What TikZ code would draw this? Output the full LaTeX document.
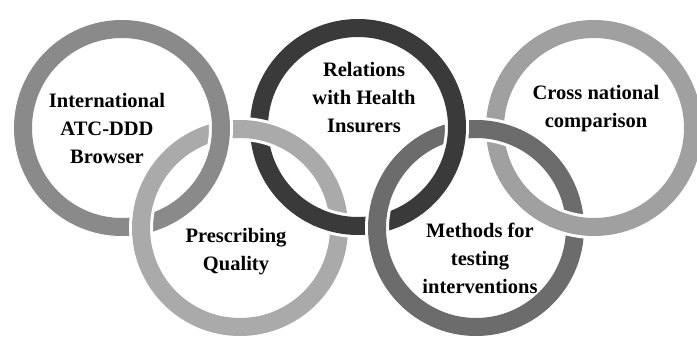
\documentclass[tikz,border=0pt]{standalone}
\usepackage{fontspec}
\setmainfont{Liberation Serif}
\usetikzlibrary{calc}
\definecolor{ringone}{HTML}{8A8A8A}
\definecolor{ringtwo}{HTML}{AAAAAA}
\definecolor{ringthree}{HTML}{3A3A3A}
\definecolor{ringfour}{HTML}{6C6C6C}
\definecolor{ringfive}{HTML}{A0A0A0}

\begin{document}
\begin{tikzpicture}[x=1pt,y=1pt,
  ring/.style={line width=18pt},
  halo/.style={line width=24pt,draw=white},
  every node/.style={align=center,font=\fontsize{20.5}{28}\selectfont\bfseries}]
\clip (0,0) rectangle (697,340);
\fill[white] (0,0) rectangle (697,340);
% ring centres, top row and bottom row
\coordinate (c1) at (122,212);
\coordinate (c2) at (240,112);
\coordinate (c3) at (358,213);
\coordinate (c4) at (476,112);
\coordinate (c5) at (594,212);
% whole rings first
\draw[ring,draw=ringone] (c1) circle[radius=99];
\draw[ring,draw=ringtwo] (c2) circle[radius=99];
\draw[ring,draw=ringthree] (c3) circle[radius=99];
\draw[ring,draw=ringfour] (c4) circle[radius=99];
\draw[ring,draw=ringfive] (c5) circle[radius=99];
% then the pieces that pass over at each crossing
\foreach \c/\a/\col in {c1/-1.65/ringone,c2/178.35/ringtwo,c2/78.91/ringtwo,c3/258.91/ringthree,
    c3/-1.65/ringthree,c4/178.35/ringfour,c4/78.91/ringfour,c5/258.91/ringfive}{
  \draw[halo] ([shift={(\a-13:99)}]\c) arc[start angle=\a-13,end angle=\a+13,radius=99];
  \draw[ring,draw=\col] ([shift={(\a-14:99)}]\c) arc[start angle=\a-14,end angle=\a+14,radius=99];
}
\node (atc) at (107,212) {International\\ATC-DDD\\Browser};
\node (prescr) at (236,88) {Prescribing\\Quality};
\node (insur) at (364,242) {Relations\\with Health\\Insurers};
\node (methods) at (480,82) {Methods for\\testing\\interventions};
\node (cross) at (596,231) {Cross national\\comparison};
\end{tikzpicture}
\end{document}
